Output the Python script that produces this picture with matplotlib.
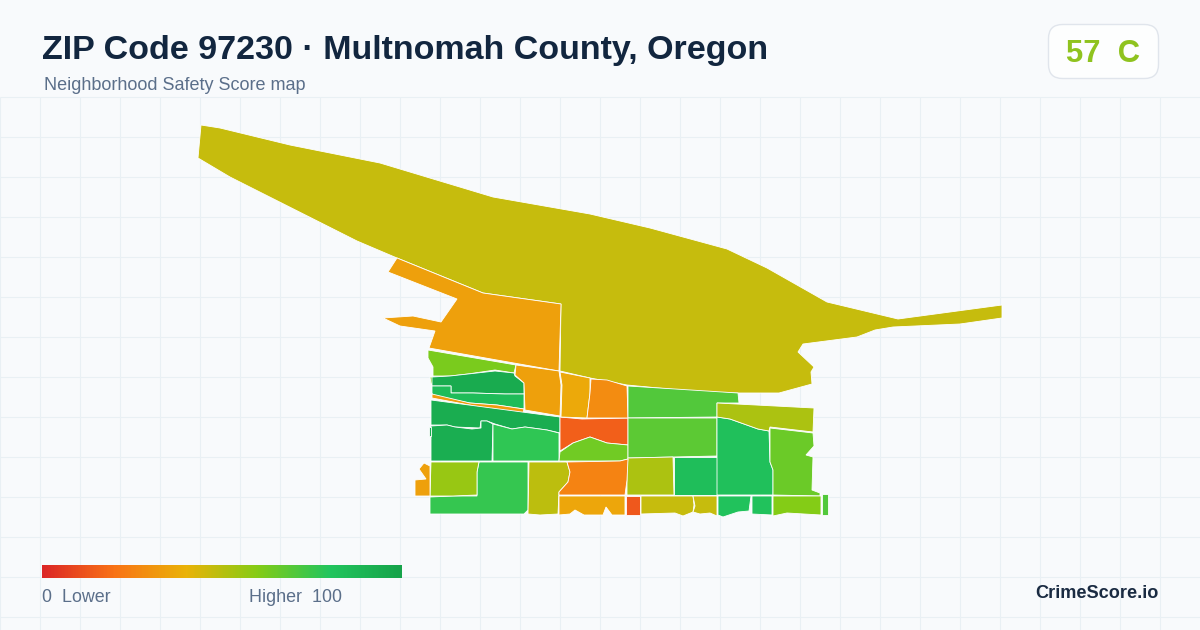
import numpy as np
import matplotlib.pyplot as plt
from matplotlib.colors import LinearSegmentedColormap
from matplotlib.patches import FancyBboxPatch, Polygon

plt.rcParams['font.family'] = ['Liberation Sans', 'DejaVu Sans']

title = "ZIP Code 97230 · Multnomah County, Oregon"
subtitle = "Neighborhood Safety Score map"
badge_text = "57  C"
brand = "CrimeScore.io"
legend_low = "0  Lower"
legend_high = "Higher  100"

# tract outlines
north_river = [(201,125),(220,128),(290,145),(380,163),(493,197),(590,214),(650,228),(727,249),(767,268),(827,302),(898,319),(1002,305),(1002,318),(960,324),(893,327),(875,330),(857,337),(803,344),(798,352),(814,367),(811,372),(812,384),(779,393),(738,393),(700,392),(627,385),(590,378),(560,371),(561,304),(483,293),(397,258),(357,241),(230,177),(198,158)]
nw_orange = [(397,258),(388,272),(457,299),(441,322),(413,316),(383,318),(400,326),(435,331),(429,348),(559,371),(561,304),(483,293)]
lime_north = [(428,350),(428,358),(433,367),(433,376),(450,376),(468,374),(495,370),(514,373),(516,365)]
lime_nick = [(430,377),(433,377),(432,384),(431,384)]
dark_strip = [(432,377),(450,376),(468,374),(495,371),(514,373),(515,376),(524,383),(524,394),(505,394),(473,393),(451,393),(451,386),(432,386)]
light_strip = [(432,386),(451,386),(451,393),(473,393),(505,394),(524,394),(524,409),(497,405),(470,403),(433,396),(432,393)]
orange_sliver = [(432,394),(470,403),(497,405),(524,409),(523,413),(480,407),(432,398)]
green_band = [(431,400),(560,417),(560,433),(547,430),(525,427),(512,429),(495,424),(487,421),(481,421),(480,428),(455,427),(447,425),(431,425)]
green_sw = [(431,426),(447,425),(455,427),(472,429),(481,428),(481,421),(487,421),(493,424),(492,461),(431,461)]
green_nick = [(429,427),(431,427),(431,436),(429,436)]
green_mid = [(493,424),(512,429),(525,427),(547,430),(559,433),(559,461),(493,461)]
red_tract = [(560,417),(582,419),(628,418),(628,445),(607,443),(590,437),(573,443),(560,451)]
lime_small = [(560,452),(573,443),(590,437),(607,443),(628,445),(628,459),(620,461),(559,461)]
orange_a = [(516,365),(559,371),(561,385),(560,416),(525,410),(524,383),(515,375)]
orange_b = [(560,372),(590,378),(590,393),(587,418),(561,417),(562,385)]
orange_c = [(591,379),(607,380),(627,386),(628,418),(587,418),(590,393)]
east_top = [(628,386),(738,393),(739,403),(717,403),(717,417),(628,418)]
east_mid = [(628,418),(717,418),(717,456),(673,457),(628,458)]
olive_mid = [(628,458),(673,457),(674,495),(627,495),(627,467)]
green_box = [(674,457),(717,457),(717,495),(674,495)]
green_big = [(717,417),(730,419),(758,429),(769,431),(770,462),(773,470),(773,495),(717,495)]
olive_ne = [(717,403),(814,408),(813,432),(770,427),(769,431),(758,429),(730,419),(717,417)]
lime_east = [(770,428),(813,433),(814,446),(806,455),(813,457),(812,490),(820,493),(820,496),(773,495),(773,470),(770,462)]
green_south = [(479,462),(477,472),(477,496),(453,496),(430,497),(430,514),(524,514),(528,510),(528,462)]
olive_west = [(431,462),(479,462),(477,472),(477,495),(453,496),(430,496)]
orange_west = [(424,463),(430,466),(430,496),(415,496),(415,480),(426,479),(419,469)]
olive_south = [(529,462),(567,462),(570,472),(568,482),(559,492),(558,514),(540,515),(528,514)]
orange_south = [(567,462),(620,461),(628,459),(627,480),(625,495),(559,495),(559,492),(568,482),(570,472)]
amber_south = [(559,496),(625,496),(625,515),(612,515),(606,507),(603,515),(584,515),(575,510),(570,514),(559,515)]
red_south = [(626,496),(640,496),(640,515),(626,515)]
olive_s1 = [(641,496),(693,496),(694,505),(693,512),(683,516),(675,513),(641,514)]
olive_s2 = [(693,496),(717,496),(717,516),(710,513),(700,514),(693,512),(695,506)]
green_s1 = [(718,496),(751,496),(749,511),(738,512),(723,517),(718,515)]
green_s2 = [(752,496),(772,496),(772,515),(752,514)]
lime_s1 = [(773,496),(821,496),(821,515),(787,513),(773,516)]
lime_s2 = [(822,494),(828,494),(828,515),(822,515)]

tract_shapes = [north_river, nw_orange, lime_north, lime_nick, dark_strip, light_strip, orange_sliver,
                green_band, green_sw, green_nick, green_mid, red_tract, lime_small, orange_a, orange_b,
                orange_c, east_top, east_mid, olive_mid, green_box, green_big, olive_ne,
                lime_east, green_south, olive_west, orange_west, olive_south, orange_south,
                amber_south, red_south, olive_s1, olive_s2, green_s1, green_s2, lime_s1, lime_s2]
tract_scores = [47, 34, 62, 62, 95, 85, 33,
                94, 93, 94, 77, 15, 64, 34, 37,
                28, 70, 68, 52, 84, 83, 52,
                65, 76, 56, 34, 49, 25,
                36, 13, 47, 47, 82, 82, 60, 70]

score_stops = [0, 20, 40, 60, 80, 100]
stop_colors = ['#dc2626', '#f97316', '#eab308', '#84cc16', '#22c55e', '#16a34a']

cmap = LinearSegmentedColormap.from_list('safety', [(s / 100, c) for s, c in zip(score_stops, stop_colors)])

fig = plt.figure(figsize=(12, 6.3), dpi=100, facecolor='#f8fafc')
ax = fig.add_axes([0, 0, 1, 1])
ax.set_facecolor('#f8fafc')

# background grid
ax.vlines(np.arange(0, 1200, 40), 97, 630, color='#e9f0f4', lw=0.8, zorder=1)
ax.hlines(np.arange(97, 630, 40), 0, 1200, color='#e9f0f4', lw=0.8, zorder=1)

for shape, score in zip(tract_shapes, tract_scores):
    ax.add_patch(Polygon(shape, closed=True, facecolor=cmap(score / 100), edgecolor='white', lw=0.6, zorder=2))

# legend bar
ax.imshow(np.linspace(0, 1, 360).reshape(1, -1), cmap=cmap, extent=(42, 402, 578, 565), aspect='auto', zorder=3)
ax.text(42, 602, legend_low, fontsize=12.9, color='#5b6f8a', va='baseline', ha='left', zorder=4)
ax.text(249, 602, legend_high, fontsize=12.9, color='#5b6f8a', va='baseline', ha='left', zorder=4)

# header
ax.text(41.5, 59.5, title, fontsize=24.5, fontweight='bold', color='#12263f', va='baseline', ha='left', zorder=4)
ax.text(44, 90.5, subtitle, fontsize=12.95, color='#5b6f8a', va='baseline', ha='left', zorder=4)

badge = FancyBboxPatch((1048.5, 24.5), 110, 54, boxstyle='round,pad=0,rounding_size=14',
                       facecolor='#fdfefe', edgecolor='#e0e5ec', lw=1, zorder=3)
ax.add_patch(badge)
ax.text(1103, 62, badge_text, fontsize=22.3, fontweight='bold', color='#8fc31f', va='baseline', ha='center', zorder=4)

ax.text(1158.5, 598.5, brand, fontsize=13.1, fontweight='bold', color='#1a2b42', va='baseline', ha='right', zorder=4)

ax.set_xlim(0, 1200)
ax.set_ylim(630, 0)
ax.axis('off')

plt.savefig('out.png', dpi=100, facecolor=fig.get_facecolor())
plt.close()
